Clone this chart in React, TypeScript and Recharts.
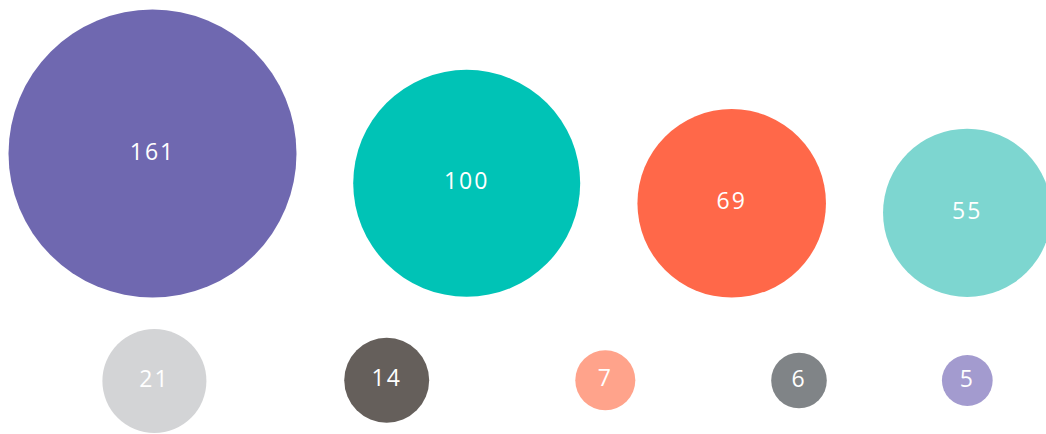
import React from 'react'
import { ScatterChart, Scatter, XAxis, YAxis, ZAxis } from 'recharts'

// bubble values
const values = [161, 100, 69, 55, 21, 14, 7, 6, 5]
// bubble centres on the hidden x / y axes
const xs = [152.5, 466.7, 731.7, 967.2, 154.4, 386.7, 605.3, 799, 967.3]
const ys = [153.5, 183.3, 203.3, 212.8, 381, 380.3, 380.3, 380.5, 380.5]
const colors = ['#6f68b0', '#00c3b6', '#ff6849', '#7dd6d0', '#d3d4d6', '#655f5b', '#ffa38b', '#808487', '#a39bcf']

const data = values.map((value, i) => ({ x: xs[i], y: ys[i], value, color: colors[i] }))

const W = 1046
const H = 434

function Bubble(props: any) {
  const { cx, cy, size, payload } = props
  const r = Math.sqrt(Math.max(size, 0) / Math.PI)
  return (
    <g>
      <circle cx={cx} cy={cy} r={r} fill={payload.color} />
      <text
        x={cx}
        y={cy - 3}
        fill="#fff"
        textAnchor="middle"
        dominantBaseline="central"
        fontFamily="'Open Sans', sans-serif"
        fontSize={23}
        letterSpacing={2}
      >
        {payload.value}
      </text>
    </g>
  )
}

export default function App() {
  return (
    <div style={{ position: 'absolute', left: 0, top: 0, width: W, height: H, background: '#fff' }}>
      <ScatterChart width={W} height={H} margin={{ top: 0, right: 0, bottom: 0, left: 0 }}>
        <XAxis type="number" dataKey="x" domain={[0, W]} hide />
        <YAxis type="number" dataKey="y" domain={[0, H]} reversed hide />
        <ZAxis type="number" dataKey="value" domain={[0, 161]} range={[0, Math.PI * 144 * 144]} />
        <Scatter data={data} shape={Bubble} isAnimationActive={false} />
      </ScatterChart>
    </div>
  )
}
